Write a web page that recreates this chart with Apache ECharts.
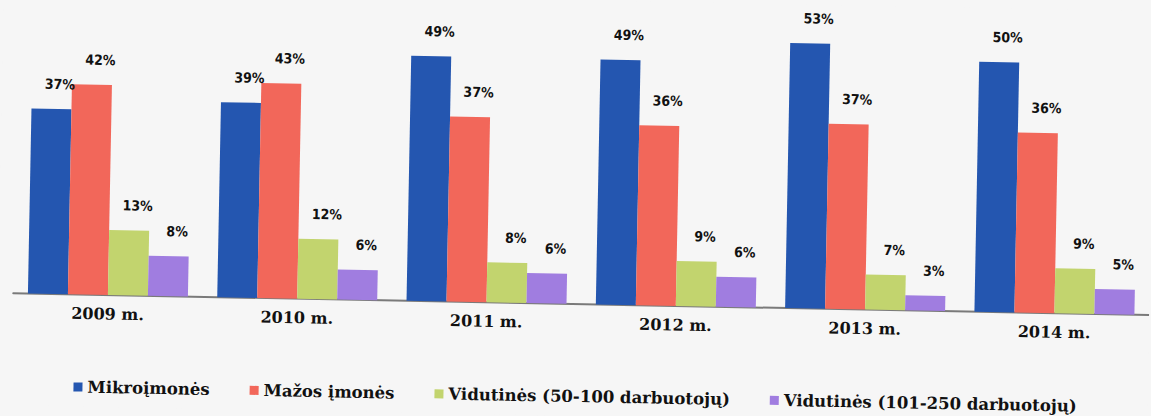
<!DOCTYPE html>
<html>
<head>
<meta charset="utf-8">
<script src="https://cdn.jsdelivr.net/npm/echarts@6/dist/echarts.min.js"></script>
<style>
    html, body {
        margin: 0;
        padding: 0;
        background: #f6f6f6;
        overflow: hidden;
    }
    #chart {
        width: 1151px;
        height: 416px;
        /* the scanned page is slightly tilted */
        transform: rotate(1.1deg);
        transform-origin: 50% 50%;
    }
</style>
</head>
<body>
<div id="chart"></div>
<script>
const years = ['2009 m.', '2010 m.', '2011 m.', '2012 m.', '2013 m.', '2014 m.'];

const seriesNames = [
    'Mikroįmonės',
    'Mažos įmonės',
    'Vidutinės (50-100 darbuotojų)',
    'Vidutinės (101-250 darbuotojų)'
];

const micro = [37, 39, 49, 49, 53, 50];
const small = [42, 43, 37, 36, 37, 36];
const medium50 = [13, 12, 8, 9, 7, 9];
const medium101 = [8, 6, 6, 6, 3, 5];

const colors = ['#2456b0', '#f2675a', '#c2d46e', '#a07de0'];

const serifFont = "'DejaVu Serif', 'Liberation Serif', serif";

const chart = echarts.init(document.getElementById('chart'), null, { renderer: 'svg' });

function makeSeries(name, data, color) {
    return {
        name: name,
        type: 'bar',
        data: data,
        barWidth: 40,
        barGap: '0%',
        itemStyle: { color: color },
        label: {
            show: true,
            position: 'top',
            distance: 18,
            offset: [8, 0],
            formatter: '{c}%',
            fontFamily: 'DejaVu Sans Condensed',
            fontWeight: 'bold',
            fontSize: 14,
            color: '#111'
        },
        animation: false
    };
}

chart.setOption({
    backgroundColor: '#f6f6f6',
    grid: {
        left: 15,
        width: 1146,
        top: 4,
        bottom: 112
    },
    legend: {
        left: 72,
        top: 383,
        itemWidth: 9,
        itemHeight: 9,
        itemGap: 40,
        icon: 'rect',
        textStyle: {
            fontFamily: serifFont,
            fontWeight: 'bold',
            fontSize: 16.5,
            color: '#111'
        },
        data: seriesNames
    },
    xAxis: {
        type: 'category',
        data: years,
        axisTick: { show: false },
        axisLine: { lineStyle: { color: '#7a7a7a', width: 2 } },
        axisLabel: {
            margin: 11,
            fontFamily: serifFont,
            fontWeight: 'bold',
            fontSize: 16,
            color: '#111'
        }
    },
    yAxis: {
        type: 'value',
        min: 0,
        max: 60,
        show: false,
        splitLine: { show: false }
    },
    series: [
        makeSeries(seriesNames[0], micro, colors[0]),
        makeSeries(seriesNames[1], small, colors[1]),
        makeSeries(seriesNames[2], medium50, colors[2]),
        makeSeries(seriesNames[3], medium101, colors[3])
    ]
});
</script>
</body>
</html>
